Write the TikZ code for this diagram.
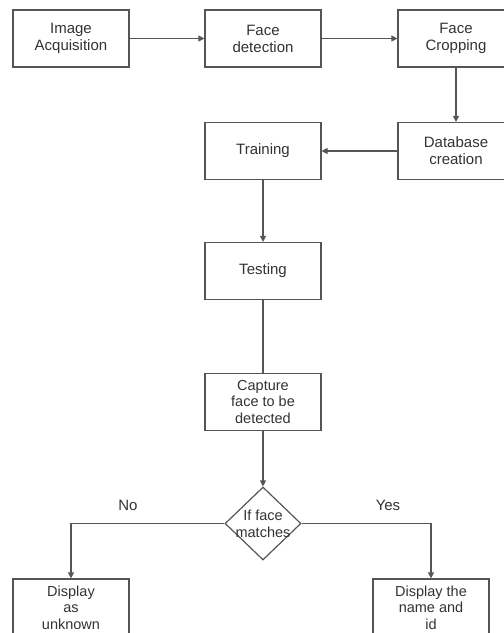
\documentclass[tikz,border=0pt]{standalone}
\usepackage{fontspec}
\setmainfont{Liberation Sans}
\usetikzlibrary{arrows.meta,shapes.geometric}
\definecolor{linec}{HTML}{555555}
\definecolor{textc}{HTML}{333333}
\begin{document}
\begin{tikzpicture}[x=1pt,y=-1pt,
  every node/.style={font=\fontsize{15}{17}\selectfont, text=textc},
  procbox/.style={draw=linec, line width=1.2pt, minimum width=116pt, minimum height=57pt, align=center, inner sep=0pt},
  decision/.style={draw=linec, line width=1.2pt, diamond, minimum width=76pt, minimum height=73pt, inner sep=0pt},
  dtext/.style={align=center, inner sep=0pt, font=\fontsize{14.5}{16.5}\selectfont},
  flow/.style={draw=linec, line width=1.2pt, -{Triangle[length=6pt,width=6pt]}},
  plain/.style={draw=linec, line width=1.2pt},
  lab/.style={inner sep=0pt}]
\useasboundingbox[fill=white] (0,0) rectangle (504,633);
\node[procbox] (b1) at (71,38.5) {Image\\Acquisition};
\node[procbox] (b2) at (263,38.5) {Face\\detection};
\node[procbox] (b3) at (456,38.5) {Face\\Cropping};
\node[procbox] (db) at (456,151) {Database\\creation};
\node[procbox] (tr) at (263,151) {Training};
\node[procbox] (te) at (263,271) {Testing};
\node[procbox, font=\fontsize{14.5}{16.5}\selectfont] (ca) at (263,402) {Capture\\face to be\\detected};
\node[decision] (d) at (263,523.5) {};
\node[dtext] (dt) at (263,524) {If face\\matches};
\node[procbox, font=\fontsize{14.5}{16.5}\selectfont] (un) at (71,607.5) {Display\\as\\unknown};
\node[procbox, font=\fontsize{14.5}{16.5}\selectfont] (dn) at (431,607.5) {Display the\\name and\\id};
\node[lab] (no) at (128,505) {No};
\node[lab] (yes) at (388,505) {Yes};
\path[flow] (b1.east) -- (b2.west);
\path[flow] (b2.east) -- (b3.west);
\path[flow] (b3.south) -- (db.north);
\path[flow] (db.west) -- (tr.east);
\path[flow] (tr.south) -- (te.north);
\path[plain] (te.south) -- (ca.north);
\path[flow] (ca.south) -- (d.north);
\path[flow] (d.west) -| (un.north);
\path[flow] (d.east) -| (dn.north);
\end{tikzpicture}
\end{document}
